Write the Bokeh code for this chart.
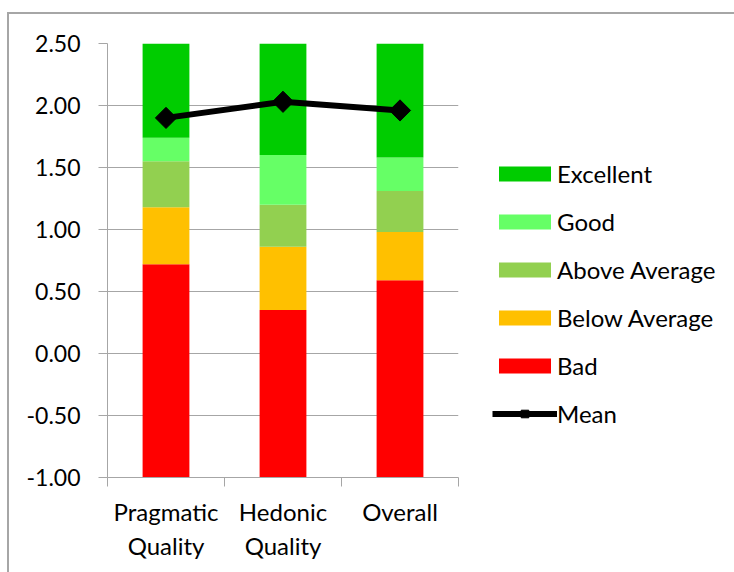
import math
from bokeh.plotting import figure
from bokeh.models import Range1d, FixedTicker, NumeralTickFormatter, LinearAxis, Legend, LegendItem
from bokeh.embed import file_html
from bokeh.resources import INLINE

# ---- data ----
categories = ["Pragmatic Quality", "Hedonic Quality", "Overall"]
label_line1 = ["Pragmatic", "Hedonic", "Overall"]
label_line2 = ["Quality", "Quality", ""]
axis_floor = -1.0
axis_ceiling = 2.5
bad_upper = [0.72, 0.35, 0.59]
below_avg_upper = [1.18, 0.86, 0.98]
above_avg_upper = [1.55, 1.20, 1.31]
good_upper = [1.74, 1.60, 1.58]
means = [1.90, 2.03, 1.96]
y_ticks = [-1.0, -0.5, 0.0, 0.5, 1.0, 1.5, 2.0, 2.5]
series_names = ["Bad", "Below Average", "Above Average", "Good", "Excellent"]
series_colors = ["#FF0000", "#FFC000", "#92D050", "#66FF66", "#00CC00"]

FONT = "Lato"
FS = "24px"
FS_Y = "23px"
GRAY = "#a6a6a6"

n = len(categories)
xs = list(range(n))
boundaries = [i - 0.5 for i in range(n + 1)]

lowers = [[axis_floor] * n, bad_upper, below_avg_upper, above_avg_upper, good_upper]
uppers = [bad_upper, below_avg_upper, above_avg_upper, good_upper, [axis_ceiling] * n]

p = figure(
    frame_width=351, frame_height=434,
    min_border_left=98, min_border_top=29, min_border_right=276, min_border_bottom=95,
    x_range=Range1d(-0.5, n - 0.5), y_range=Range1d(axis_floor, axis_ceiling),
    x_axis_type=None,
    output_backend="svg", toolbar_location=None,
)
p.styles = {
    "margin-left": "7px", "margin-top": "12px",
    "border-top": "2px solid " + GRAY, "border-left": "2px solid " + GRAY,
}
p.outline_line_color = None
p.background_fill_color = "white"
p.border_fill_color = "white"
p.xgrid.visible = False
p.ygrid.grid_line_color = GRAY
p.ygrid.grid_line_width = 1
p.ygrid.ticker = FixedTicker(ticks=y_ticks)

# y axis
p.yaxis.ticker = FixedTicker(ticks=y_ticks)
p.yaxis.formatter = NumeralTickFormatter(format="0.00")
p.yaxis.axis_line_color = GRAY
p.yaxis.major_tick_line_color = GRAY
p.yaxis.major_tick_out = 9
p.yaxis.major_tick_in = 0
p.yaxis.minor_tick_line_color = None
p.yaxis.major_label_standoff = 18
p.yaxis.major_label_text_font = FONT
p.yaxis.major_label_text_font_size = FS_Y
p.yaxis.major_label_text_color = "black"

# x axes (two lines of category labels)
ax1 = LinearAxis(
    ticker=FixedTicker(ticks=xs, minor_ticks=boundaries),
    major_label_overrides={i: label_line1[i] for i in xs},
    major_tick_out=0, major_tick_in=0, major_tick_line_color=None,
    minor_tick_out=9, minor_tick_in=0, minor_tick_line_color=GRAY,
    axis_line_color=GRAY,
    major_label_standoff=10,
    major_label_text_font=FONT, major_label_text_font_size=FS, major_label_text_color="black",
)
ax2 = LinearAxis(
    ticker=FixedTicker(ticks=xs),
    major_label_overrides={i: label_line2[i] for i in xs},
    major_tick_out=0, major_tick_in=0, major_tick_line_color=None,
    minor_tick_line_color=None, axis_line_color=None,
    major_label_standoff=2,
    major_label_text_font=FONT, major_label_text_font_size=FS, major_label_text_color="black",
)
p.add_layout(ax1, "below")
p.add_layout(ax2, "below")

# stacked bands
bar_renderers = []
for lo, hi, name, col in zip(lowers, uppers, series_names, series_colors):
    r = p.vbar(x=xs, bottom=lo, top=hi, width=0.4, fill_color=col, line_color=None)
    bar_renderers.append((name, r))

# mean line
line_r = p.line(xs, means, line_color="black", line_width=6)
mark_r = p.scatter(xs, means, marker="square", angle=math.pi / 4, size=15,
                   fill_color="black", line_color="black")

items = [LegendItem(label=name, renderers=[r]) for name, r in reversed(bar_renderers)]
items.append(LegendItem(label="Mean", renderers=[line_r, mark_r]))

legend = Legend(
    items=items, location=(34, 49),
    glyph_width=65, glyph_height=19, label_standoff=0, spacing=19,
    padding=0, margin=0, border_line_color=None, background_fill_alpha=0,
    label_text_font=FONT, label_text_font_size=FS, label_text_color="black",
)
p.add_layout(legend, "right")

open("out.html", "w").write(file_html(p, INLINE))
